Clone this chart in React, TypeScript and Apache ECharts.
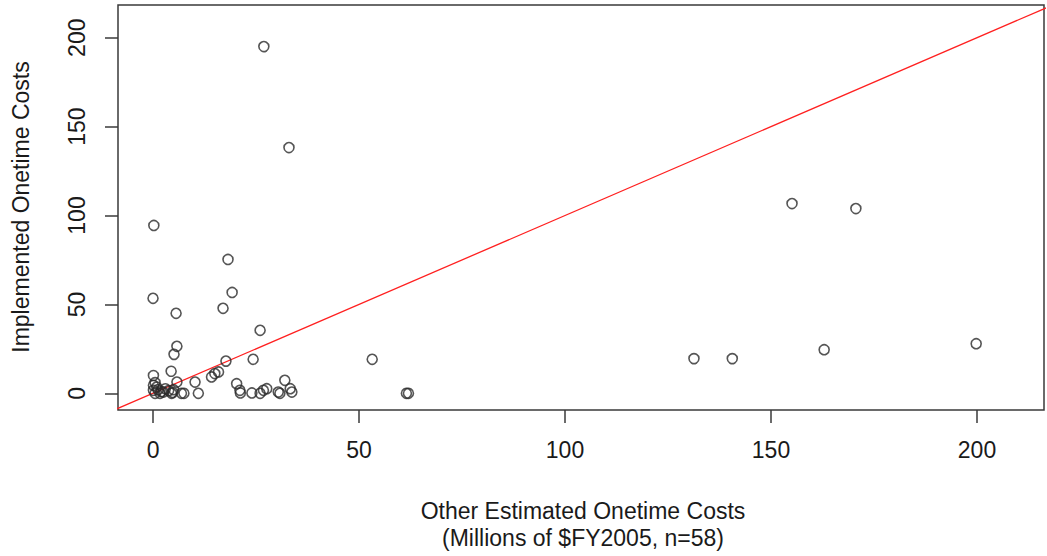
import React, { useEffect, useRef } from "react";
import * as echarts from "echarts";

// Other Estimated Onetime Costs (x) vs Implemented Onetime Costs (y), n=58
const otherEstimated: number[] = [
  26.9, 33.0, 0.2, 0.0, 18.2, 19.2, 5.6, 17.0, 26.0, 5.8,
  5.1, 53.2, 24.3, 17.7, 4.4, 14.2, 15.0, 15.9, 0.1, 5.8,
  10.2, 20.3, 21.1, 21.2, 24.0, 26.0, 26.8, 27.6, 30.4, 30.8,
  32.0, 33.3, 33.7, 0.1, 0.9, 0.1, 0.5, 1.7, 2.5, 4.5,
  6.9, 7.5, 11.0, 61.5, 62.0, 131.3, 140.6, 155.1, 162.9, 170.6,
  199.8, 1.2, 2.0, 3.0, 3.8, 4.8, 0.5, 5.0,
];
const implemented: number[] = [
  195.0, 138.2, 94.4, 53.4, 75.3, 56.7, 45.0, 47.8, 35.4, 26.4,
  21.9, 19.1, 19.1, 18.1, 12.4, 9.2, 11.1, 12.0, 10.0, 6.3,
  6.3, 5.4, 1.7, 0.2, 0.2, 0.0, 1.7, 2.6, 0.7, 0.0,
  7.3, 2.6, 0.7, 4.5, 3.5, 1.7, 0.0, 0.0, 0.7, 0.0,
  0.0, 0.0, 0.0, 0.0, 0.0, 19.5, 19.5, 106.7, 24.5, 103.9,
  27.9, 2.0, 1.0, 2.5, 1.5, 0.5, 6.0, 2.0,
];
const tickValues: number[] = [0, 50, 100, 150, 200];
const referenceLine: number[][] = [[-20, -20], [240, 240]];
const xTitle = "Other Estimated Onetime Costs";
const xSubtitle = "(Millions of $FY2005, n=58)";
const yTitle = "Implemented Onetime Costs";

const FONT = "'Liberation Sans', Arial, Helvetica, sans-serif";

export default function App() {
  const ref = useRef<HTMLDivElement>(null);
  useEffect(() => {
    if (!ref.current) return;
    const chart = echarts.init(ref.current, null, { renderer: "svg" });
    const points = otherEstimated.map((x, i) => [x, implemented[i]]);
    chart.setOption({
      animation: false,
      backgroundColor: "#ffffff",
      grid: {
        left: 118,
        top: 5,
        width: 926,
        height: 405,
        show: true,
        borderColor: "#3a3a3a",
        borderWidth: 1.5,
        backgroundColor: "transparent",
      },
      xAxis: {
        type: "value",
        min: -8.5,
        max: 216.26,
        splitLine: { show: false },
        axisLine: { show: false, onZero: false },
        axisTick: {
          show: true,
          inside: false,
          length: 13,
          customValues: tickValues,
          lineStyle: { color: "#3a3a3a", width: 1.5 },
        },
        axisLabel: {
          customValues: tickValues,
          margin: 28,
          fontSize: 23,
          fontFamily: FONT,
          color: "#1a1a1a",
        },
      },
      yAxis: {
        type: "value",
        min: -9.4,
        max: 218.4,
        splitLine: { show: false },
        axisLine: { show: false, onZero: false },
        axisTick: {
          show: true,
          inside: false,
          length: 13,
          customValues: tickValues,
          lineStyle: { color: "#3a3a3a", width: 1.5 },
        },
        axisLabel: {
          customValues: tickValues,
          rotate: 90,
          margin: 30,
          fontSize: 23,
          fontFamily: FONT,
          color: "#1a1a1a",
        },
      },
      graphic: [
        {
          type: "text",
          x: 583,
          y: 524,
          style: {
            text: xTitle + "\n" + xSubtitle,
            align: "center",
            verticalAlign: "middle",
            fontSize: 23,
            lineHeight: 27,
            fontFamily: FONT,
            fill: "#1a1a1a",
          },
        },
        {
          type: "text",
          x: 21,
          y: 207,
          rotation: Math.PI / 2,
          style: {
            text: yTitle,
            align: "center",
            verticalAlign: "middle",
            fontSize: 23,
            fontFamily: FONT,
            fill: "#1a1a1a",
          },
        },
      ],
      series: [
        {
          type: "line",
          data: referenceLine,
          clip: true,
          showSymbol: false,
          symbol: "none",
          lineStyle: { color: "#ff2020", width: 1.3 },
          z: 1,
        },
        {
          type: "scatter",
          data: points,
          symbol: "circle",
          symbolSize: 10,
          itemStyle: {
            color: "rgba(0,0,0,0)",
            borderColor: "#2a2a2a",
            borderWidth: 1.6,
          },
          z: 2,
        },
      ],
    });
    return () => chart.dispose();
  }, []);
  return (
    <div
      ref={ref}
      style={{ position: "fixed", left: 0, top: 0, width: 1047, height: 556 }}
    />
  );
}
